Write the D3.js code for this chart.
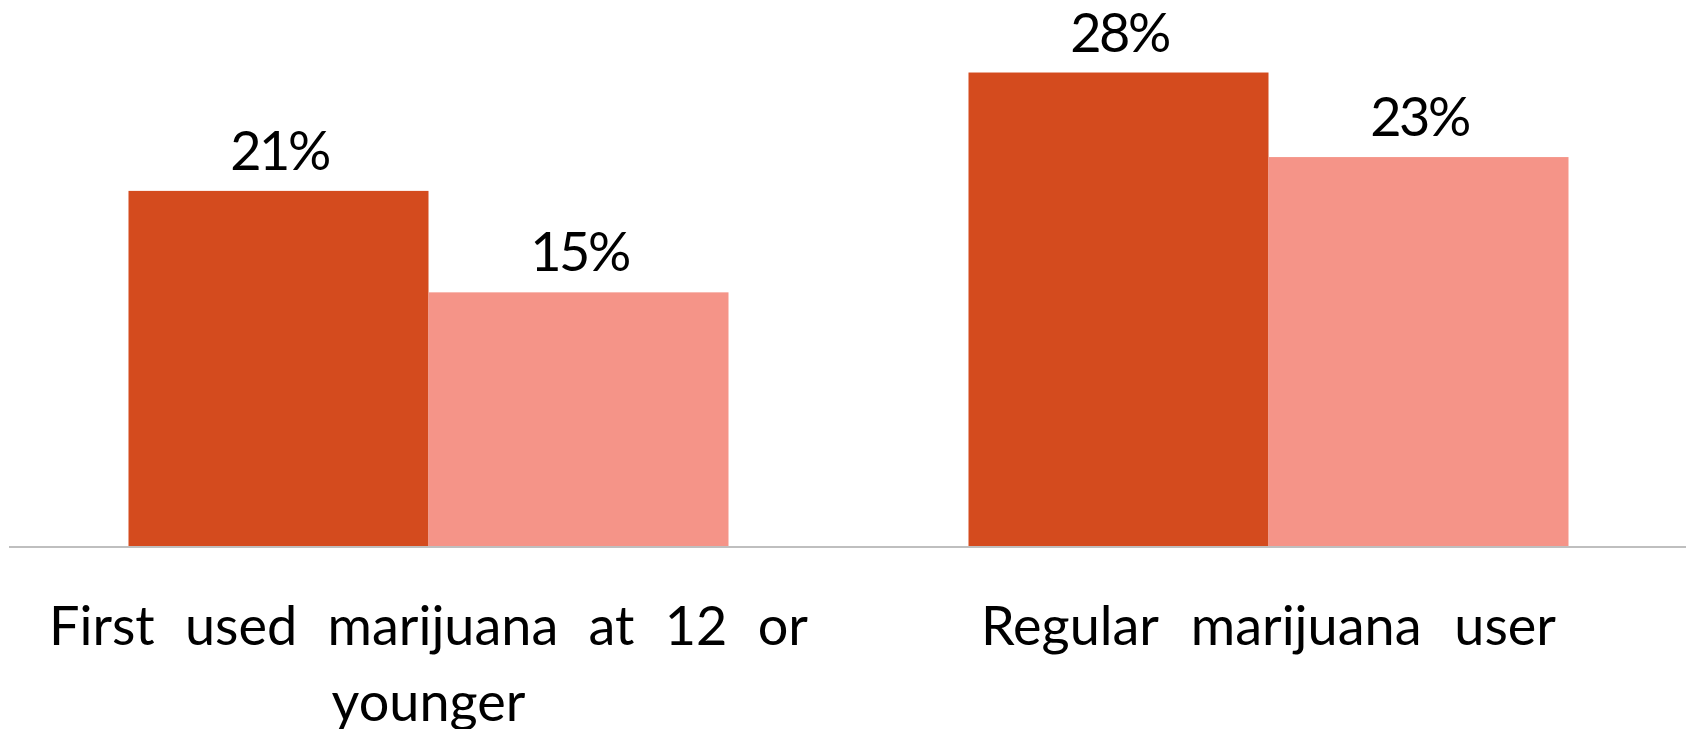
<!DOCTYPE html>
<html>
<head>
<meta charset="utf-8">
<script src="https://cdn.jsdelivr.net/npm/d3@7"></script>
<style>
  html, body { margin: 0; padding: 0; background: #ffffff; }
  svg { display: block; }
  text { font-family: Lato, "Liberation Sans", sans-serif; fill: #000; }
</style>
</head>
<body>
<svg id="chart" width="1694" height="729"></svg>
<script>
// Survey shares by group (percent)
const categories = ["First used marijuana at 12 or younger", "Regular marijuana user"];
const categoryLines = [["First used marijuana at 12 or", "younger"], ["Regular marijuana user"]];
const series = ["Group A", "Group B"];
const seriesA = [21, 28];
const seriesB = [15, 23];
const valueFormat = d => d + "%";

const colors = { "Group A": "#d44b1e", "Group B": "#f59488" };

const svg = d3.select("#chart");
const baseY = 546;
const fontSize = 54;

const x0 = d3.scaleBand().domain(categories).range([8.5, 1688.5]).padding(0);
const x1 = d3.scaleBand().domain(series).range([0, x0.bandwidth()])
  .paddingInner(0).paddingOuter(0.4);
const y = d3.scaleLinear().domain([0, 30]).range([baseY, baseY - 507.3]);

const rows = categories.map((c, i) => ({
  category: c,
  values: [{ key: "Group A", value: seriesA[i] }, { key: "Group B", value: seriesB[i] }]
}));

const groups = svg.append("g").selectAll("g")
  .data(rows).join("g")
  .attr("transform", d => `translate(${x0(d.category)},0)`);

groups.selectAll("rect")
  .data(d => d.values).join("rect")
  .attr("x", d => x1(d.key))
  .attr("width", x1.bandwidth())
  .attr("y", d => y(d.value))
  .attr("height", d => y(0) - y(d.value))
  .attr("fill", d => colors[d.key]);

// value labels, slightly tightened to keep them compact over the bars
groups.selectAll("text.value")
  .data(d => d.values).join("text")
  .attr("class", "value")
  .attr("x", d => x1(d.key) + x1.bandwidth() / 2 + 1)
  .attr("y", d => y(d.value) - 21)
  .attr("text-anchor", "middle")
  .style("font-size", fontSize + "px")
  .style("letter-spacing", "-2.5px")
  .text(d => valueFormat(d.value));

// baseline axis
svg.append("g")
  .attr("transform", `translate(0,${baseY + 1})`)
  .call(d3.axisBottom(x0).tickSize(0).tickFormat(""))
  .call(g => g.select(".domain").attr("stroke", "#bfbfbf").attr("stroke-width", 2)
    .attr("d", "M9,0H1686"));

// category labels: widely spaced words, first line of a wrapped label spread to full width
const lineWidths = [[759, null], [575]];
categories.forEach((c, i) => {
  const cx = x0(c) + x0.bandwidth() / 2;
  categoryLines[i].forEach((line, j) => {
    const t = svg.append("text")
      .attr("x", cx)
      .attr("y", 645 + j * 76)
      .attr("text-anchor", "middle")
      .style("font-size", fontSize + "px")
      .text(line);
    const target = lineWidths[i][j];
    const spaces = (line.match(/ /g) || []).length;
    if (target && spaces) {
      const natural = t.node().getComputedTextLength();
      t.style("word-spacing", ((target - natural) / spaces) + "px");
    }
  });
});
</script>
</body>
</html>
